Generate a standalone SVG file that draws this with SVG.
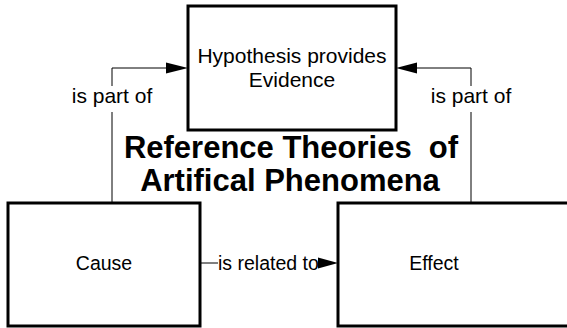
<svg xmlns="http://www.w3.org/2000/svg" width="567" height="328" viewBox="0 0 567 328">
<style>
.box{fill:#fff;stroke:#000;stroke-width:3}
.ln{fill:none;stroke:#000;stroke-width:1}
.ah{fill:#000}
.t{font-family:"Liberation Sans",Arial,sans-serif;font-size:21px;fill:#000;text-anchor:middle}
.s{font-size:19.5px}
.title{font-family:"Liberation Sans",Arial,sans-serif;font-size:31px;font-weight:bold;fill:#000;text-anchor:middle;white-space:pre}
</style>
<rect width="567" height="328" fill="#fff"/>
<g id="connectors">
<path class="ln" d="M112,202 V112 M112,86 V68 H168"/>
<polygon class="ah" points="188,68 166,62.5 166,73.5"/>
<text class="t" x="112" y="103">is part of</text>
<path class="ln" d="M471,202 V112 M471,86 V68 H414"/>
<polygon class="ah" points="396,68 417,62.5 417,73.5"/>
<text class="t" x="471" y="103">is part of</text>
<path class="ln" d="M201,263 H218"/>
<polygon class="ah" points="338,263 318,257.5 318,268.5"/>
<text class="t s" x="218" y="270" text-anchor="start" style="text-anchor:start">is related to</text>
</g>
<g id="hypothesis">
<rect class="box" x="188" y="6" width="208" height="124"/>
<text class="t" x="292" y="63">Hypothesis provides</text>
<text class="t" x="292" y="87">Evidence</text>
</g>
<g id="title">
<text class="title" x="291" y="158" xml:space="preserve">Reference Theories  of</text>
<text class="title" x="290" y="191">Artifical Phenomena</text>
</g>
<g id="cause">
<rect class="box" x="8" y="203" width="192" height="123"/>
<text class="t s" x="104" y="270">Cause</text>
</g>
<g id="effect">
<rect class="box" x="338" y="203" width="240" height="123"/>
<text class="t s" x="434" y="270">Effect</text>
</g>
</svg>
